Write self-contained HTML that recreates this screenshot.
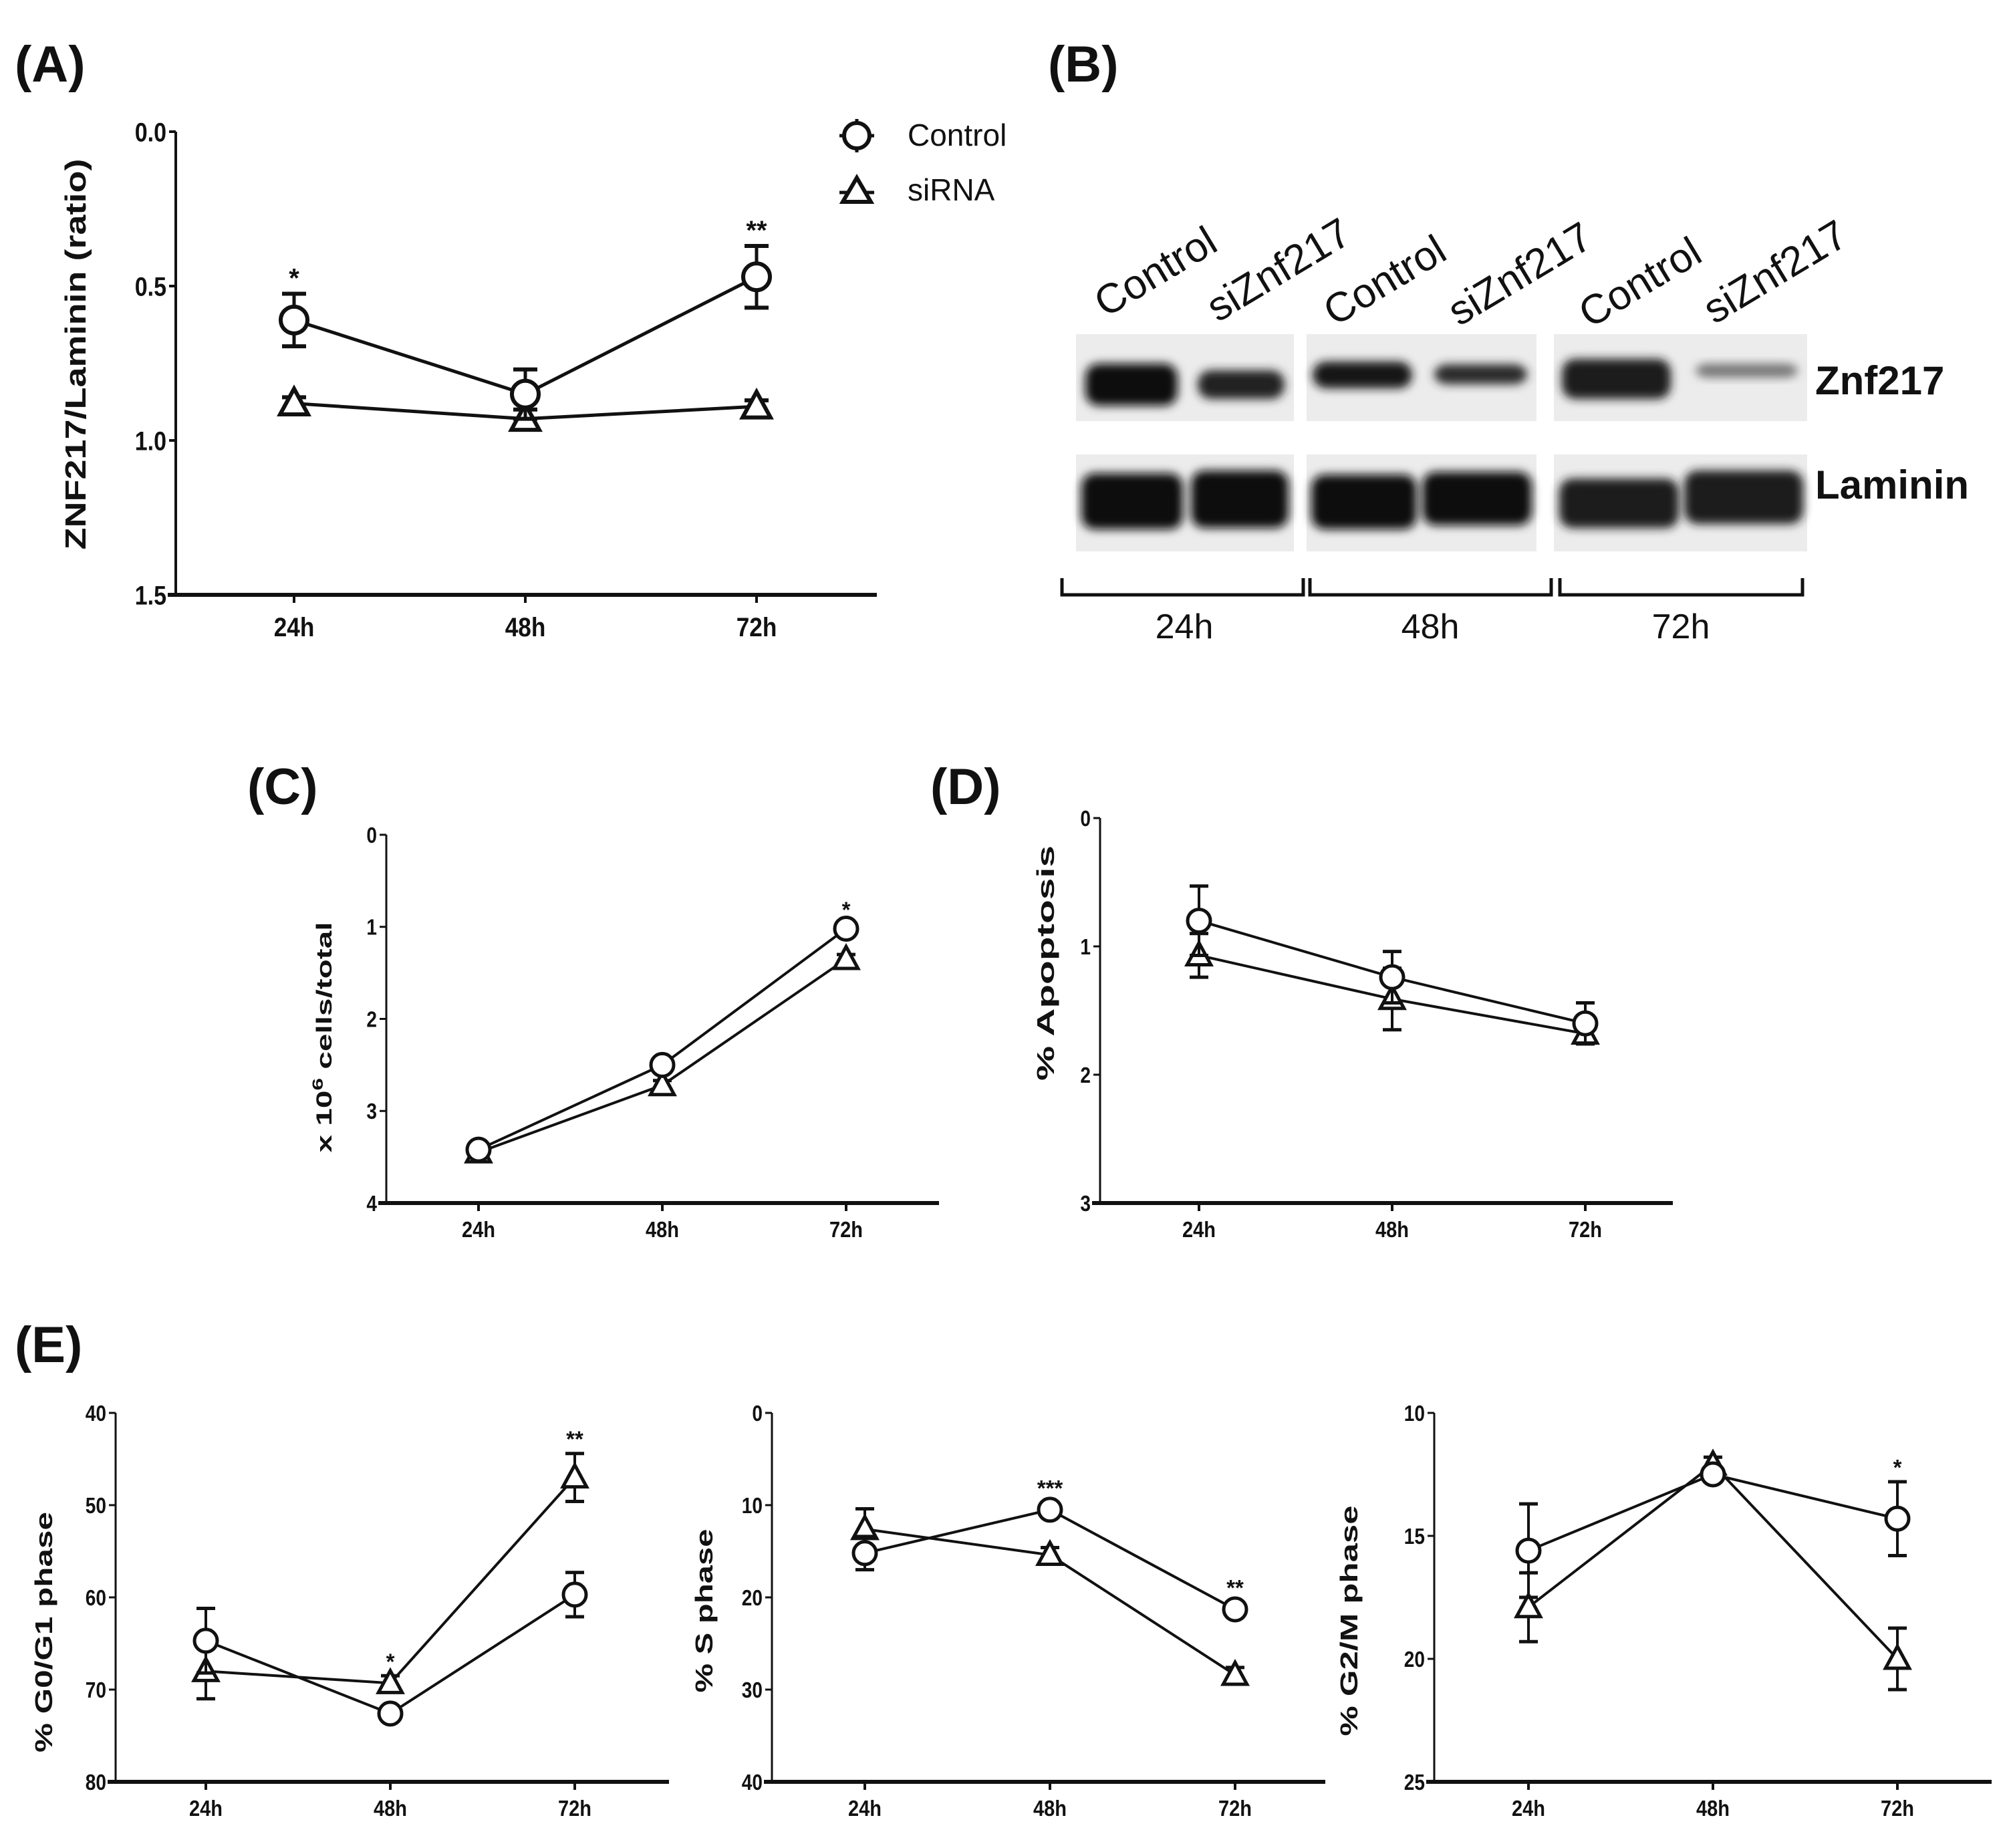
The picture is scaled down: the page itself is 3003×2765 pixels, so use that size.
<!DOCTYPE html>
<html><head><meta charset="utf-8">
<style>
html,body{margin:0;padding:0;background:#fff;}
svg{display:block;}
.t{font-family:"Liberation Sans",sans-serif;font-weight:bold;fill:#111;}
.n{font-family:"Liberation Sans",sans-serif;fill:#111;}
</style></head>
<body>
<svg id="fig" width="3003" height="2765" viewBox="0 0 3003 2765" xmlns="http://www.w3.org/2000/svg">
<defs>
<filter id="blur" x="-20%" y="-50%" width="140%" height="200%"><feGaussianBlur stdDeviation="7"/></filter>
</defs>
<text class="t" x="22" y="122" font-size="76">(A)</text>
<text class="t" x="1568" y="122" font-size="76">(B)</text>
<text class="t" x="370" y="1203" font-size="76">(C)</text>
<text class="t" x="1392" y="1203" font-size="76">(D)</text>
<text class="t" x="22" y="2038" font-size="76">(E)</text>

<g>
<g>
<line x1="1256" y1="203" x2="1308" y2="203" stroke="#111" stroke-width="5"/>
<line x1="1282" y1="178" x2="1282" y2="228" stroke="#111" stroke-width="5"/>
<circle cx="1282" cy="203" r="19" fill="#fff" stroke="#111" stroke-width="6"/>
<text class="n" x="1358" y="218" font-size="46">Control</text>
</g>
<g>
<line x1="1256" y1="288" x2="1308" y2="288" stroke="#111" stroke-width="5"/>
<polygon points="1282,266 1303,302 1261,302" fill="#fff" stroke="#111" stroke-width="6" stroke-linejoin="miter"/>
<text class="n" x="1358" y="300" font-size="46">siRNA</text>
</g>
</g>

<g id="blot"></g>
<g id="plots"></g>
</svg>
<script>
// ===== Panel A data =====
var catsA = ["24h","48h","72h"];
var ctrlA = [0.61, 0.85, 0.47];
var ctrlErrA = [0.085, 0.08, 0.1];
var sirA = [0.88, 0.93, 0.89];
var sirErrA = [0.02, 0.03, 0.02];
var ticksA = ["0.0","0.5","1.0","1.5"];
var tickValsA = [0, 0.5, 1.0, 1.5];
var starsA = ["*","",  "**"];
// ===== Panel C data =====
var catsC = ["24h","48h","72h"];
var ctrlC = [3.42, 2.5, 1.02];
var ctrlErrC = [0.05, 0.05, 0.05];
var sirC = [3.45, 2.72, 1.35];
var sirErrC = [0.05, 0.05, 0.05];
var ticksC = ["0","1","2","3","4"];
var tickValsC = [0,1,2,3,4];
var starsC = ["","","*"];
// ===== Panel D data =====
var catsD = ["24h","48h","72h"];
var ctrlD = [0.8, 1.24, 1.6];
var ctrlErrD = [0.27, 0.2, 0.16];
var sirD = [1.07, 1.41, 1.68];
var sirErrD = [0.17, 0.24, 0.08];
var ticksD = ["0","1","2","3"];
var tickValsD = [0,1,2,3];
var starsD = ["","",""];
// ===== Panel E1 (G0/G1) =====
var catsE1 = ["24h","48h","72h"];
var ctrlE1 = [64.7, 72.6, 59.7];
var ctrlErrE1 = [3.5, 0.8, 2.4];
var sirE1 = [68.0, 69.3, 47.0];
var sirErrE1 = [3.0, 0.8, 2.6];
var ticksE1 = ["40","50","60","70","80"];
var tickValsE1 = [40,50,60,70,80];
var starsE1 = ["","*","**"];
// ===== Panel E2 (S) =====
var catsE2 = ["24h","48h","72h"];
var ctrlE2 = [15.2, 10.5, 21.3];
var ctrlErrE2 = [1.8, 0.8, 0.8];
var sirE2 = [12.6, 15.4, 28.4];
var sirErrE2 = [2.2, 0.8, 0.8];
var ticksE2 = ["0","10","20","30","40"];
var tickValsE2 = [0,10,20,30,40];
var starsE2 = ["","***","**"];
// ===== Panel E3 (G2/M) =====
var catsE3 = ["24h","48h","72h"];
var ctrlE3 = [15.6, 12.5, 14.3];
var ctrlErrE3 = [1.9, 0.3, 1.5];
var sirE3 = [17.9, 12.1, 20.0];
var sirErrE3 = [1.4, 0.3, 1.25];
var ticksE3 = ["10","15","20","25"];
var tickValsE3 = [10,15,20,25];
var starsE3 = ["","","*"];

var NS = "http://www.w3.org/2000/svg";
var root = document.getElementById('plots');
function mk(tag, attrs, parent){
  var e = document.createElementNS(NS, tag);
  for (var k in attrs) e.setAttribute(k, attrs[k]);
  (parent||root).appendChild(e);
  return e;
}

function plot(cfg){
  var g = mk('g', {});
  
  
  var vmin = cfg.tickVals[0], vmax = cfg.tickVals[cfg.tickVals.length-1];
  function y(v){ return cfg.yTop + (v - vmin)/(vmax - vmin)*(cfg.yBot - cfg.yTop); }
  function x(i){ return cfg.x0 + i*cfg.dx; }
  var ya = mk('line', {x1:cfg.ax, y1:y(vmin), x2:cfg.ax, y2:cfg.yBot, stroke:'#111', 'stroke-width':cfg.yw}, g);
  
  
  cfg.tickVals.forEach(function(v, i){
    mk('line', {x1:cfg.ax-10, y1:y(v), x2:cfg.ax, y2:y(v), stroke:'#111', 'stroke-width':cfg.yw}, g);
    var t = mk('text', {x:0, y:0, 'text-anchor':'end', 'font-size':cfg.fs, class:'t',
      transform:'translate('+(cfg.ax-14)+','+(y(v)+cfg.fs*0.36)+') scale(0.85,1)'}, g);
    
    
    t.textContent = cfg.ticks[i];
  });
  var xa = mk('line', {x1:cfg.ax-12, y1:cfg.yBot, x2:cfg.xEnd, y2:cfg.yBot, stroke:'#111', 'stroke-width':cfg.xw}, g);
  
  
  cfg.cats.forEach(function(c, i){
    mk('line', {x1:x(i), y1:cfg.yBot, x2:x(i), y2:cfg.yBot+12, stroke:'#111', 'stroke-width':4}, g);
    var t = mk('text', {x:0, y:0, 'text-anchor':'middle', 'font-size':cfg.fs, class:'t',
      transform:'translate('+x(i)+','+(cfg.yBot+cfg.fs*1.55)+') scale(0.88,1)'}, g);
    
    
    t.textContent = c;
  });
  var yt = mk('text', {x:0, y:0, 'text-anchor':'middle', 'font-size':cfg.tfs, class:'t',
    transform:'translate('+cfg.tx+','+cfg.ty+') rotate(-90)'}, g);
  
  
  if (cfg.titleLen){ yt.setAttribute('textLength', cfg.titleLen); yt.setAttribute('lengthAdjust', 'spacingAndGlyphs'); }
  if (cfg.sup){
    yt.appendChild(document.createTextNode(cfg.title[0]));
    var s = document.createElementNS(NS,'tspan'); s.setAttribute('dy', -cfg.tfs*0.4); s.setAttribute('font-size', cfg.tfs*0.7); s.textContent = cfg.sup;
    yt.appendChild(s);
    var s2 = document.createElementNS(NS,'tspan'); s2.setAttribute('dy', cfg.tfs*0.4); s2.textContent = cfg.title[1];
    yt.appendChild(s2);
  } else yt.textContent = cfg.title;
  function series(vals, errs, kind){
    var sg = mk('g', {}, g);
    
    
    var pts = vals.map(function(v,i){ return x(i)+','+y(v); }).join(' ');
    var pl = mk('polyline', {points:pts, fill:'none', stroke:'#111', 'stroke-width':cfg.lw}, sg);
    
    
    vals.forEach(function(v,i){
      var e = errs[i], cx = x(i), cy = y(v);
      var eb = mk('g', {}, sg);
      
      
      mk('line', {x1:cx, y1:y(v-e), x2:cx, y2:y(v+e), stroke:'#111', 'stroke-width':cfg.lw}, eb);
      mk('line', {x1:cx-cfg.cap, y1:y(v-e), x2:cx+cfg.cap, y2:y(v-e), stroke:'#111', 'stroke-width':cfg.lw+1}, eb);
      mk('line', {x1:cx-cfg.cap, y1:y(v+e), x2:cx+cfg.cap, y2:y(v+e), stroke:'#111', 'stroke-width':cfg.lw+1}, eb);
      var m;
      if (kind === 'c'){
        m = mk('circle', {cx:cx, cy:cy, r:cfg.r, fill:'#fff', stroke:'#111', 'stroke-width':cfg.mw}, sg);
        
      } else {
        var r = cfg.r*1.1;
        m = mk('polygon', {points:cx+','+(cy-r)+' '+(cx+r*0.95)+','+(cy+r*0.75)+' '+(cx-r*0.95)+','+(cy+r*0.75), fill:'#fff', stroke:'#111', 'stroke-width':cfg.mw}, sg);
        
      }
      
    });
  }
  series(cfg.sir, cfg.sirErr, 's');
  series(cfg.ctrl, cfg.ctrlErr, 'c');
  cfg.stars.forEach(function(s, i){
    if (!s) return;
    var top = Math.min(y(cfg.ctrl[i]-cfg.ctrlErr[i]), y(cfg.sir[i]-cfg.sirErr[i]));
    var t = mk('text', {x:x(i), y:top-10, 'text-anchor':'middle', 'font-size':cfg.fs, class:'t'}, g);
    
    
    t.textContent = s;
  });
}

plot({name:'chart-a', cats:catsA, ctrl:ctrlA, ctrlErr:ctrlErrA, sir:sirA, sirErr:sirErrA, ticks:ticksA, tickVals:tickValsA, stars:starsA,
  ax:263, yTop:197, yBot:890, x0:440, dx:346, xEnd:1312, fs:40, tfs:44, title:'ZNF217/Laminin (ratio)', titleLen:585, tx:128, ty:530,
  yw:4, xw:6, lw:5, mw:6, r:20, cap:18});
plot({name:'chart-c', cats:catsC, ctrl:ctrlC, ctrlErr:ctrlErrC, sir:sirC, sirErr:sirErrC, ticks:ticksC, tickVals:tickValsC, stars:starsC,
  ax:578, yTop:1249, yBot:1800, x0:716, dx:275, xEnd:1405, fs:33, tfs:32, title:['x 10',' cells/total'], sup:'6', titleLen:345, tx:496, ty:1552,
  yw:3, xw:6, lw:4, mw:5, r:17, cap:14});
plot({name:'chart-d', cats:catsD, ctrl:ctrlD, ctrlErr:ctrlErrD, sir:sirD, sirErr:sirErrD, ticks:ticksD, tickVals:tickValsD, stars:starsD,
  ax:1646, yTop:1224, yBot:1800, x0:1794, dx:289, xEnd:2503, fs:33, tfs:36, title:'% Apoptosis', titleLen:352, tx:1577, ty:1441,
  yw:3, xw:6, lw:4, mw:5, r:17, cap:14});
plot({name:'chart-e-g0g1', cats:catsE1, ctrl:ctrlE1, ctrlErr:ctrlErrE1, sir:sirE1, sirErr:sirErrE1, ticks:ticksE1, tickVals:tickValsE1, stars:starsE1,
  ax:173, yTop:2114, yBot:2666, x0:308, dx:276, xEnd:1001, fs:33, tfs:36, title:'% G0/G1 phase', titleLen:360, tx:78, ty:2442,
  yw:3, xw:6, lw:4, mw:5, r:17, cap:14});
plot({name:'chart-e-s', cats:catsE2, ctrl:ctrlE2, ctrlErr:ctrlErrE2, sir:sirE2, sirErr:sirErrE2, ticks:ticksE2, tickVals:tickValsE2, stars:starsE2,
  ax:1155, yTop:2114, yBot:2666, x0:1294, dx:277, xEnd:1983, fs:33, tfs:36, title:'% S phase', titleLen:245, tx:1066, ty:2410,
  yw:3, xw:6, lw:4, mw:5, r:17, cap:14});
plot({name:'chart-e-g2m', cats:catsE3, ctrl:ctrlE3, ctrlErr:ctrlErrE3, sir:sirE3, sirErr:sirErrE3, ticks:ticksE3, tickVals:tickValsE3, stars:starsE3,
  ax:2146, yTop:2114, yBot:2666, x0:2287, dx:276, xEnd:2980, fs:33, tfs:36, title:'% G2/M phase', titleLen:345, tx:2031, ty:2425,
  yw:3, xw:6, lw:4, mw:5, r:17, cap:14});

// ===== Western blot (image-like, not data) =====
var blot = document.getElementById('blot');
var panels = [[1610,1936],[1955,2299],[2325,2704]];
var rows = [[500,630],[680,825]];
panels.forEach(function(p){
  rows.forEach(function(r){
    var bg = mk('rect', {x:p[0], y:r[0], width:p[1]-p[0], height:r[1]-r[0], fill:'#ececec'}, blot);
    
    
  });
});
var bands = [
 [1624,1762,544,607,'#111'],[1792,1922,554,597,'#222'],
 [1964,2113,541,581,'#151515'],[2146,2285,545,575,'#2a2a2a'],
 [2337,2500,537,597,'#1a1a1a'],[2537,2690,544,565,'#777'],
 [1618,1770,708,792,'#0d0d0d'],[1782,1928,704,790,'#0d0d0d'],
 [1962,2120,710,792,'#111'],[2128,2292,706,786,'#111'],
 [2333,2512,716,790,'#1a1a1a'],[2520,2698,704,784,'#1a1a1a']
];
bands.forEach(function(b){
  var e = mk('rect', {x:b[0], y:b[2], width:b[1]-b[0], height:b[3]-b[2], rx:20, fill:b[4], filter:'url(#blur)'}, blot);
  
  
});
function txt(s, attrs, name){
  var t = mk('text', attrs, blot); t.textContent = s;
  
  
}
txt('Znf217', {x:2716, y:590, 'font-size':60, class:'t'}, 'band-label-znf217');
txt('Laminin', {x:2716, y:746, 'font-size':60, class:'t'}, 'band-label-laminin');
var lanes = [[1654,476,'Control'],[1822,483,'siZnf217'],[1997,489,'Control'],[2183,489,'siZnf217'],[2379,492,'Control'],[2565,486,'siZnf217']];
lanes.forEach(function(l){
  txt(l[2], {x:0, y:0, 'font-size':62, class:'n', transform:'translate('+l[0]+','+l[1]+') rotate(-31)'}, 'lane-label');
});
var br = [[1589,1950,1772,'24h'],[1960,2321,2140,'48h'],[2334,2697,2515,'72h']];
br.forEach(function(b){
  var p = mk('polyline', {points:b[0]+',865 '+b[0]+',890 '+b[1]+',890 '+b[1]+',865', fill:'none', stroke:'#111', 'stroke-width':5}, blot);
  
  
  txt(b[3], {x:b[2], y:955, 'text-anchor':'middle', 'font-size':52, class:'n'}, 'time-label');
});
</script>
</body></html>
